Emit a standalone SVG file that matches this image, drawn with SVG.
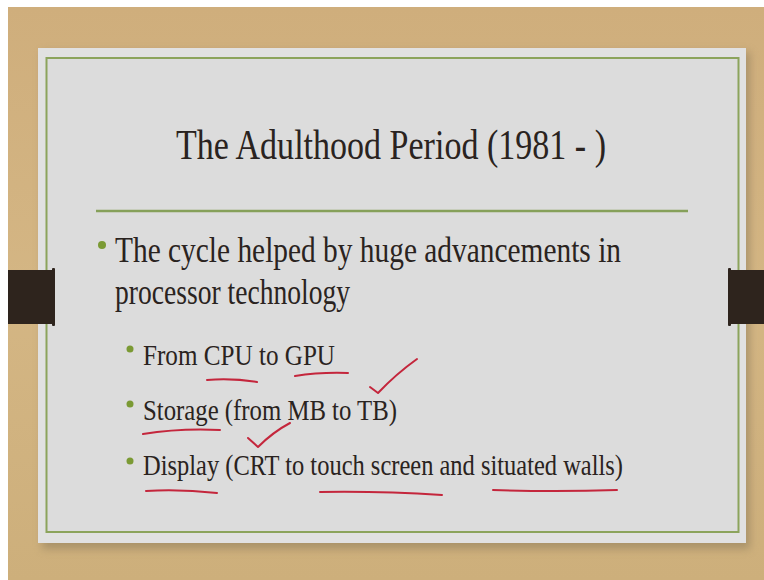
<svg xmlns="http://www.w3.org/2000/svg" width="764" height="580" viewBox="0 0 764 580">
  <defs>
    <linearGradient id="tan" x1="0" y1="0" x2="0" y2="1">
      <stop offset="0" stop-color="#cfae7c"/>
      <stop offset="0.5" stop-color="#d4b684"/>
      <stop offset="1" stop-color="#cdaf7b"/>
    </linearGradient>
    <filter id="shadow" x="-10%" y="-10%" width="120%" height="120%">
      <feGaussianBlur stdDeviation="4"/>
    </filter>
    <style>
      .txt { font-family: "Liberation Serif", "Times New Roman", serif; fill: #2a2320; }
      .title { font-size: 43px; }
      .l1 { font-size: 36px; }
      .l2 { font-size: 30px; }
      .dot { fill: #7b9a34; }
      .ink { fill: none; stroke: #c4263c; stroke-width: 2; stroke-linecap: round; stroke-linejoin: round; }
      .clip { fill: #2e241d; }
    </style>
  </defs>

  <g id="background">
    <rect x="0" y="0" width="764" height="580" fill="#ffffff"/>
    <rect x="8" y="7" width="756" height="573" fill="url(#tan)"/>
  </g>

  <g id="slide">
    <rect x="42" y="52" width="708" height="497" fill="#8c7a5a" opacity="0.55" filter="url(#shadow)"/>
    <rect x="38" y="48" width="708" height="495" fill="#e1e1e1"/>
    <rect x="46.5" y="58" width="692" height="474" fill="#dcdcdc" stroke="#8ca45c" stroke-width="2"/>
    <line x1="96" y1="211" x2="688" y2="211" stroke="#86a05a" stroke-width="2.5"/>
  </g>

  <g id="clips">
    <rect class="clip" x="8" y="270" width="46" height="54"/>
    <rect class="clip" x="52" y="268" width="3" height="58" rx="1"/>
    <rect class="clip" x="730" y="270" width="34" height="54"/>
    <rect class="clip" x="728" y="268" width="3" height="58" rx="1"/>
  </g>

  <g id="title">
    <text class="txt title" x="176" y="159" textLength="430" lengthAdjust="spacingAndGlyphs">The Adulthood Period (1981 - )</text>
  </g>

  <g id="bullets">
    <circle class="dot" cx="102" cy="245" r="4"/>
    <text class="txt l1" x="115" y="262" textLength="506" lengthAdjust="spacingAndGlyphs">The cycle helped by huge advancements in</text>
    <text class="txt l1" x="115" y="304" textLength="235" lengthAdjust="spacingAndGlyphs">processor technology</text>

    <circle class="dot" cx="130" cy="349" r="3.5"/>
    <text class="txt l2" x="143" y="365" textLength="192" lengthAdjust="spacingAndGlyphs">From CPU to GPU</text>

    <circle class="dot" cx="130" cy="404" r="3.5"/>
    <text class="txt l2" x="143" y="420" textLength="254" lengthAdjust="spacingAndGlyphs">Storage (from MB to TB)</text>

    <circle class="dot" cx="130" cy="461" r="3.5"/>
    <text class="txt l2" x="143" y="475" textLength="480" lengthAdjust="spacingAndGlyphs">Display (CRT to touch screen and situated walls)</text>
  </g>

  <g id="annotations">
    <path class="ink" d="M207 380 Q232 378 257 382"/>
    <path class="ink" d="M295 376 Q320 372 348 373"/>
    <path class="ink" d="M370 387 L378 393 Q396 374 417 359"/>
    <path class="ink" d="M143 434 Q180 428 220 430"/>
    <path class="ink" d="M248 438 L258 447 Q273 432 290 423"/>
    <path class="ink" d="M146 491 Q180 489 217 493"/>
    <path class="ink" d="M320 492 Q380 491 442 495"/>
    <path class="ink" d="M493 490 Q555 492 617 490"/>
  </g>
</svg>
